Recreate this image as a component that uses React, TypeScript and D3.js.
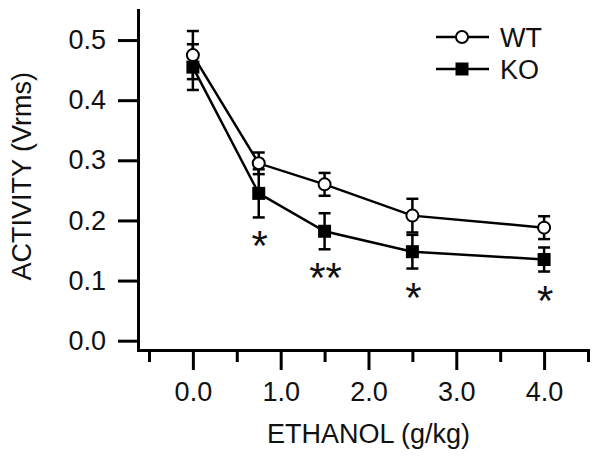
import React, { useRef, useEffect } from "react";
import * as d3 from "d3";

// ethanol dose (g/kg) and mean activity (Vrms) with error bars
const doses = [0, 0.75, 1.5, 2.5, 4.0];
const wtMean = [0.475, 0.295, 0.26, 0.208, 0.188];
const wtErr = [0.04, 0.018, 0.019, 0.028, 0.019];
const koMean = [0.455, 0.245, 0.182, 0.148, 0.135];
const koErr = [0.038, 0.04, 0.03, 0.028, 0.02];
const signif = ["", "*", "**", "*", "*"];

const yTicks = [0, 0.1, 0.2, 0.3, 0.4, 0.5];
const xMajorTicks = [0, 1, 2, 3, 4];
const xMinorTicks = [-0.5, 0.5, 1.5, 2.5, 3.5, 4.5];

const FONT = "'Liberation Sans', Arial, sans-serif";
const FS = "27px";

export default function App() {
  const svgRef = useRef<SVGSVGElement>(null);

  useEffect(() => {
    if (!svgRef.current) return;
    const svg = d3.select(svgRef.current);
    svg.selectAll("*").remove();

    const x = d3.scaleLinear().domain([-0.625, 4.5]).range([138, 588]);
    const y = d3.scaleLinear().domain([-0.0155, 0.55]).range([350, 10]);
    const fmt = d3.format(".1f");

    const styleAxis = (g: any) => {
      g.selectAll("path").attr("stroke", "#000").attr("stroke-width", 3);
      g.selectAll("line").attr("stroke", "#000").attr("stroke-width", 3);
      g.selectAll("text")
        .attr("fill", "#111")
        .style("font-family", FONT)
        .style("font-size", FS);
    };

    // y axis
    svg.append("g")
      .attr("transform", `translate(${x.range()[0]},0)`)
      .call(d3.axisLeft(y).tickValues(yTicks).tickFormat(d => fmt(d as number)).tickSize(20).tickSizeOuter(0).tickPadding(12))
      .call(styleAxis)
      .call(g => g.select(".domain").attr("stroke-linecap", "square"));

    // x axis: minor then major ticks
    svg.append("g")
      .attr("transform", `translate(0,${y.range()[0]})`)
      .call(d3.axisBottom(x).tickValues(xMinorTicks).tickFormat(() => "").tickSize(12).tickSizeOuter(0))
      .call(styleAxis)
      .call(g => g.select(".domain").attr("stroke-linecap", "square"));
    svg.append("g")
      .attr("transform", `translate(0,${y.range()[0]})`)
      .call(d3.axisBottom(x).tickValues(xMajorTicks).tickFormat(d => fmt(d as number)).tickSize(20).tickSizeOuter(0).tickPadding(12))
      .call(styleAxis)
      .call(g => g.select(".domain").remove());

    // axis titles
    svg.append("text")
      .attr("x", x(2))
      .attr("y", 443)
      .attr("text-anchor", "middle")
      .attr("fill", "#111")
      .style("font-family", FONT)
      .style("font-size", FS)
      .text("ETHANOL (g/kg)");
    svg.append("text")
      .attr("transform", `translate(31,${(y(0) + y(0.5)) / 2 - 14}) rotate(-90)`)
      .attr("text-anchor", "middle")
      .attr("fill", "#111")
      .style("font-family", FONT)
      .style("font-size", FS)
      .text("ACTIVITY (Vrms)");

    const line = d3.line<number>()
      .x((_, i) => x(doses[i]))
      .y(d => y(d));

    const series = [
      { name: "KO", mean: koMean, err: koErr, shape: "square" },
      { name: "WT", mean: wtMean, err: wtErr, shape: "circle" },
    ];

    series.forEach(s => {
      svg.append("path")
        .datum(s.mean)
        .attr("fill", "none")
        .attr("stroke", "#000")
        .attr("stroke-width", 2.5)
        .attr("d", line);
    });

    const cap = 6;
    series.forEach(s => {
      const g = svg.append("g").attr("stroke", "#000").attr("stroke-width", 2.5);
      s.mean.forEach((m, i) => {
        const cx = x(doses[i]);
        const top = y(m + s.err[i]);
        const bot = y(m - s.err[i]);
        g.append("line").attr("x1", cx).attr("x2", cx).attr("y1", top).attr("y2", bot);
        g.append("line").attr("x1", cx - cap).attr("x2", cx + cap).attr("y1", top).attr("y2", top);
        g.append("line").attr("x1", cx - cap).attr("x2", cx + cap).attr("y1", bot).attr("y2", bot);
      });
    });

    const drawMarker = (g: any, shape: string, cx: number, cy: number) => {
      if (shape === "circle") {
        g.append("circle").attr("cx", cx).attr("cy", cy).attr("r", 6)
          .attr("fill", "#fff").attr("stroke", "#000").attr("stroke-width", 2);
      } else {
        g.append("rect").attr("x", cx - 6.5).attr("y", cy - 6.5).attr("width", 13).attr("height", 13)
          .attr("fill", "#000");
      }
    };

    series.forEach(s => {
      const g = svg.append("g");
      s.mean.forEach((m, i) => drawMarker(g, s.shape, x(doses[i]), y(m)));
    });

    // significance marks below KO error bars
    svg.append("g")
      .selectAll("text")
      .data(signif)
      .join("text")
      .attr("x", (_, i) => x(doses[i]) + 1)
      .attr("y", (_, i) => y(koMean[i] - koErr[i]) + 19 + 24)
      .attr("text-anchor", "middle")
      .attr("fill", "#111")
      .style("font-family", FONT)
      .style("font-size", "42px")
      .text(d => d);

    // legend
    const legend = svg.append("g");
    series.slice().reverse().forEach((s, i) => {
      const ly = 37 + i * 32;
      legend.append("line").attr("x1", 436).attr("x2", 489).attr("y1", ly).attr("y2", ly)
        .attr("stroke", "#000").attr("stroke-width", 2.5);
      drawMarker(legend, s.shape, 462, ly);
      legend.append("text")
        .attr("x", 500).attr("y", ly + 9.5)
        .attr("fill", "#111")
        .style("font-family", FONT)
        .style("font-size", FS)
        .text(s.name);
    });
  }, []);

  return (
    <svg
      ref={svgRef}
      width={600}
      height={459}
      viewBox="0 0 600 459"
      style={{ position: "absolute", left: 0, top: 0, background: "#fff" }}
    />
  );
}
